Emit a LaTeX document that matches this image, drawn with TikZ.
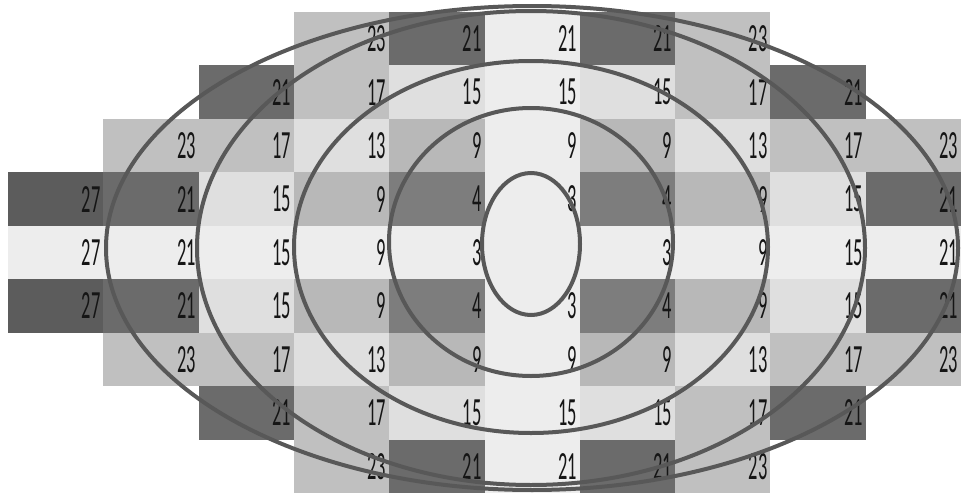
\documentclass[tikz,border=0pt]{standalone}
\usepackage{fontspec}
\setmainfont{Carlito}
\definecolor{cDD}{HTML}{5C5C5C}
\definecolor{cD}{HTML}{6B6B6B}
\definecolor{cMD}{HTML}{7D7D7D}
\definecolor{cM}{HTML}{B8B8B8}
\definecolor{cG}{HTML}{C0C0C0}
\definecolor{cL}{HTML}{DFDFDF}
\definecolor{cVL}{HTML}{EDEDED}
\definecolor{ringgray}{HTML}{585858}
\definecolor{numcol}{HTML}{151515}
\begin{document}
\begin{tikzpicture}[x=0.75pt,y=-0.75pt,
  cellbox/.style={rectangle, inner sep=0pt, outer sep=0pt, minimum width=71.475pt, minimum height=40.08pt, anchor=north west, draw=none},
  numtext/.style={anchor=east, inner sep=0pt, text=numcol, font=\fontsize{30}{30}\selectfont},
  ring/.style={draw=ringgray, line width=3pt}]
\useasboundingbox (0,0) rectangle (961,496);
\foreach \r/\c/\n/\col in {
  0/3/23/cG, 0/4/21/cD, 0/5/21/cVL, 0/6/21/cD, 0/7/23/cG,
  1/2/21/cD, 1/3/17/cG, 1/4/15/cL, 1/5/15/cVL, 1/6/15/cL, 1/7/17/cG, 1/8/21/cD,
  2/1/23/cG, 2/2/17/cG, 2/3/13/cL, 2/4/9/cM, 2/5/9/cVL, 2/6/9/cM, 2/7/13/cL, 2/8/17/cG, 2/9/23/cG,
  3/0/27/cDD, 3/1/21/cD, 3/2/15/cL, 3/3/9/cM, 3/4/4/cMD, 3/5/3/cVL, 3/6/4/cMD, 3/7/9/cM, 3/8/15/cL, 3/9/21/cD,
  4/0/27/cVL, 4/1/21/cVL, 4/2/15/cVL, 4/3/9/cVL, 4/4/3/cVL, 4/6/3/cVL, 4/7/9/cVL, 4/8/15/cVL, 4/9/21/cVL,
  5/0/27/cDD, 5/1/21/cD, 5/2/15/cL, 5/3/9/cM, 5/4/4/cMD, 5/5/3/cVL, 5/6/4/cMD, 5/7/9/cM, 5/8/15/cL, 5/9/21/cD,
  6/1/23/cG, 6/2/17/cG, 6/3/13/cL, 6/4/9/cM, 6/5/9/cVL, 6/6/9/cM, 6/7/13/cL, 6/8/17/cG, 6/9/23/cG,
  7/2/21/cD, 7/3/17/cG, 7/4/15/cL, 7/5/15/cVL, 7/6/15/cL, 7/7/17/cG, 7/8/21/cD,
  8/3/23/cG, 8/4/21/cD, 8/5/21/cVL, 8/6/21/cD, 8/7/23/cG} {
  \node[cellbox, fill=\col] (c-\r-\c) at ({8+95.3*\c},{12+53.44*\r}) {};
  \node[numtext] (t-\r-\c) at ([xshift=-2pt]c-\r-\c.east) {\scalebox{0.46}[1]{\n}};
}
\node[cellbox, fill=cVL] (c-4-5) at ({8+95.3*5},{12+53.44*4}) {};
\draw[ring] (531,244) ellipse [x radius=36.75pt, y radius=53.25pt];
\draw[ring] (531,242) ellipse [x radius=106.5pt, y radius=100.5pt];
\draw[ring] (531,247) ellipse [x radius=177.75pt, y radius=139.5pt];
\draw[ring] (531,248) ellipse [x radius=250.5pt, y radius=177.75pt];
\draw[ring] (532,248) ellipse [x radius=319.5pt, y radius=181.5pt];
\end{tikzpicture}
\end{document}
